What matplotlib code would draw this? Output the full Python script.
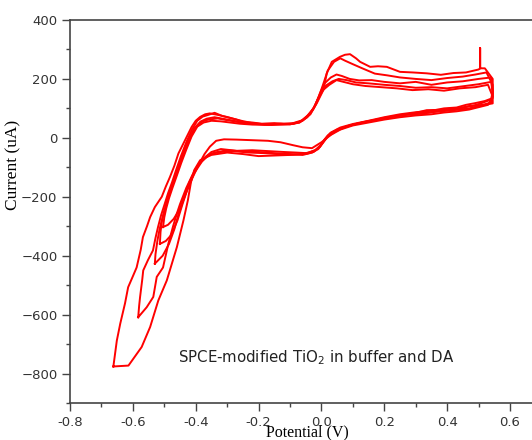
import matplotlib
matplotlib.use("Agg")
import matplotlib.pyplot as plt
from matplotlib.ticker import MultipleLocator

# cyclic voltammogram, five scans (potential in V, current in uA)
scan1_E = [-0.662, -0.655, -0.651, -0.640, -0.625, -0.615, -0.600, -0.588, -0.575, -0.568, -0.555, -0.545,
           -0.530, -0.508, -0.495, -0.482, -0.468, -0.455, -0.434, -0.413, -0.400, -0.386, -0.370, -0.355,
           -0.330, -0.301, -0.270, -0.249, -0.220, -0.190, -0.150, -0.120, -0.090, -0.060, -0.047, -0.030,
           -0.015, 0.006, 0.017, 0.033, 0.059, 0.075, 0.091, 0.110, 0.123, 0.155, 0.180, 0.208, 0.250,
           0.290, 0.335, 0.380, 0.420, 0.460, 0.500, 0.505, 0.505, 0.505, 0.520, 0.545, 0.545, 0.520,
           0.504, 0.470, 0.440, 0.419, 0.380, 0.335, 0.300, 0.250, 0.200, 0.144, 0.100, 0.059, 0.027,
           0.010, -0.005, -0.020, -0.036, -0.060, -0.100, -0.150, -0.200, -0.250, -0.300, -0.350, -0.386,
           -0.405, -0.415, -0.425, -0.439, -0.460, -0.492, -0.519, -0.545, -0.572, -0.614, -0.662]
scan1_I = [-776, -720, -688, -630, -562, -507, -470, -440, -380, -337, -300, -269,
           -235, -200, -165, -133, -95, -53, -8, 37, 58, 71, 80, 83,
           78, 71, 62, 54, 52, 48, 50, 48, 50, 60, 71, 90,
           117, 162, 219, 258, 275, 282, 284, 270, 258, 241, 243, 241, 224,
           222, 219, 214, 220, 222, 232, 236, 305, 236, 236, 200, 117, 112,
           111, 108, 98, 101, 95, 94, 85, 77, 68, 54, 45, 32, 15,
           -5, -31, -42, -48, -55, -58, -60, -62, -55, -50, -58, -76,
           -110, -150, -212, -280, -371, -484, -552, -642, -710, -773, -776]

scan2_E = [-0.583, -0.580, -0.577, -0.570, -0.567, -0.552, -0.536, -0.528, -0.520, -0.510, -0.498, -0.488,
           -0.475, -0.462, -0.447, -0.430, -0.412, -0.395, -0.378, -0.360, -0.340, -0.315, -0.285, -0.255,
           -0.220, -0.180, -0.140, -0.100, -0.070, -0.045, -0.025, -0.010, 0.005, 0.020, 0.040, 0.060,
           0.075, 0.100, 0.130, 0.170, 0.210, 0.250, 0.300, 0.350, 0.400, 0.450, 0.490, 0.525, 0.545,
           0.545, 0.520, 0.490, 0.460, 0.430, 0.390, 0.350, 0.300, 0.250, 0.200, 0.150, 0.100, 0.060,
           0.030, 0.010, -0.010, -0.030, -0.060, -0.100, -0.150, -0.200, -0.250, -0.300, -0.340, -0.365,
           -0.390, -0.410, -0.430, -0.450, -0.460, -0.472, -0.487, -0.504, -0.524, -0.535, -0.556, -0.583]
scan2_I = [-609, -570, -540, -480, -450, -415, -382, -340, -303, -262, -222, -188,
           -150, -108, -62, -15, 28, 58, 72, 78, 85, 74, 66, 58,
           50, 46, 47, 46, 52, 75, 100, 135, 180, 228, 258, 270,
           262, 250, 236, 218, 212, 205, 200, 196, 203, 208, 215, 222, 180,
           135, 125, 118, 112, 103, 100, 92, 87, 80, 70, 58, 47, 35,
           18, -10, -38, -50, -58, -55, -52, -48, -46, -42, -50, -62,
           -90, -125, -170, -225, -257, -300, -359, -440, -472, -540, -575, -609]

scan3_E = [-0.530, -0.528, -0.522, -0.515, -0.505, -0.495, -0.485, -0.470, -0.457, -0.442, -0.425, -0.405,
           -0.385, -0.365, -0.340, -0.310, -0.280, -0.250, -0.210, -0.170, -0.130, -0.095, -0.065, -0.040,
           -0.020, -0.005, 0.010, 0.030, 0.048, 0.065, 0.090, 0.120, 0.160, 0.200, 0.250, 0.300, 0.350,
           0.400, 0.450, 0.500, 0.540, 0.545, 0.540, 0.510, 0.480, 0.450, 0.420, 0.380, 0.340, 0.290,
           0.240, 0.190, 0.140, 0.090, 0.050, 0.020, 0.000, -0.020, -0.045, -0.080, -0.120, -0.170,
           -0.220, -0.270, -0.320, -0.350, -0.375, -0.400, -0.420, -0.438, -0.455, -0.468, -0.485,
           -0.505, -0.530]
scan3_I = [-427, -395, -350, -310, -268, -228, -192, -148, -105, -58, -12, 32,
           55, 65, 70, 64, 58, 50, 47, 45, 48, 47, 56, 78,
           110, 150, 185, 205, 215, 210, 200, 195, 196, 190, 185, 190, 180,
           188, 192, 200, 205, 160, 130, 118, 108, 104, 96, 92, 86, 82,
           74, 65, 55, 42, 28, 8, -22, -42, -52, -50, -48, -45,
           -42, -44, -38, -48, -70, -105, -150, -205, -260, -310, -360,
           -400, -427]

scan4_E = [-0.514, -0.512, -0.508, -0.500, -0.490, -0.480, -0.466, -0.452, -0.438, -0.420, -0.400, -0.380,
           -0.360, -0.330, -0.300, -0.270, -0.240, -0.200, -0.160, -0.120, -0.090, -0.060, -0.035, -0.015,
           0.000, 0.015, 0.035, 0.055, 0.080, 0.110, 0.150, 0.200, 0.250, 0.300, 0.350, 0.400, 0.450,
           0.500, 0.540, 0.545, 0.540, 0.500, 0.470, 0.440, 0.400, 0.360, 0.320, 0.270, 0.220, 0.170,
           0.120, 0.080, 0.045, 0.015, -0.005, -0.025, -0.050, -0.090, -0.130, -0.180, -0.230, -0.280,
           -0.320, -0.355, -0.380, -0.405, -0.425, -0.442, -0.458, -0.478, -0.495, -0.514]
scan4_I = [-360, -320, -285, -250, -215, -180, -138, -95, -50, -5, 35, 55,
           62, 66, 60, 55, 50, 47, 44, 46, 48, 58, 80, 120,
           155, 178, 192, 200, 196, 188, 185, 180, 176, 170, 172, 168, 175,
           182, 190, 150, 120, 108, 100, 96, 92, 88, 82, 78, 70, 60,
           50, 38, 22, 0, -30, -48, -55, -57, -56, -52, -50, -45,
           -48, -55, -80, -120, -170, -225, -280, -330, -350, -360]

scan5_E = [-0.504, -0.500, -0.494, -0.485, -0.474, -0.460, -0.446, -0.430, -0.413, -0.395, -0.375, -0.350,
           -0.320, -0.290, -0.260, -0.220, -0.180, -0.140, -0.100, -0.070, -0.045, -0.025, -0.010, 0.005,
           0.025, 0.048, 0.070, 0.100, 0.140, 0.190, 0.240, 0.290, 0.340, 0.390, 0.440, 0.490, 0.530,
           0.545, 0.530, 0.500, 0.470, 0.430, 0.390, 0.350, 0.300, 0.250, 0.200, 0.150, 0.100, 0.060,
           0.030, 0.000, -0.030, -0.060, -0.090, -0.130, -0.170, -0.220, -0.270, -0.310, -0.335, -0.355,
           -0.372, -0.390, -0.410, -0.430, -0.450, -0.470, -0.488, -0.504]
scan5_I = [-303, -270, -240, -205, -170, -128, -85, -40, 5, 38, 52, 58,
           56, 52, 48, 45, 44, 45, 46, 52, 70, 100, 135, 162,
           180, 196, 190, 182, 176, 172, 168, 162, 165, 160, 168, 172, 180,
           140, 112, 104, 96, 90, 86, 80, 76, 70, 62, 52, 42, 28,
           10, -15, -35, -32, -25, -15, -10, -8, -6, -5, -10, -30,
           -55, -90, -135, -185, -240, -275, -295, -303]

scans = [(scan1_E, scan1_I), (scan2_E, scan2_I), (scan3_E, scan3_I), (scan4_E, scan4_I), (scan5_E, scan5_I)]

plt.rcParams['mathtext.fontset'] = 'dejavusans'

fig = plt.figure(figsize=(5.32, 4.4), dpi=100)
ax = fig.add_axes([70/532, 1 - 403/440, 462/532, 383/440])

for E, I in scans:
    ax.plot(E, I, color='#ff0000', lw=1.4)

ax.set_xlim(-0.8, 0.67)
ax.set_ylim(-900, 400)
ax.xaxis.set_major_locator(MultipleLocator(0.2))
ax.xaxis.set_minor_locator(MultipleLocator(0.1))
ax.yaxis.set_major_locator(MultipleLocator(200))
ax.yaxis.set_minor_locator(MultipleLocator(100))
ax.xaxis.set_major_formatter(plt.FuncFormatter(lambda v, p: f"{v:.1f}"))

ax.spines['right'].set_visible(False)
for s in ['left', 'bottom', 'top']:
    ax.spines[s].set_color('#444444')
    ax.spines[s].set_linewidth(1.2)
ax.tick_params(which='major', direction='out', length=5.5, width=1, color='#444444',
               labelsize=9.5, labelcolor='#333333', top=False, right=False)
ax.tick_params(which='minor', direction='out', length=3, width=1, color='#444444', top=False, right=False)
for lab in ax.get_xticklabels() + ax.get_yticklabels():
    lab.set_fontfamily('DejaVu Sans')

ax.set_xlabel('Potential (V)', family='Liberation Serif', fontsize=11.5)
ax.xaxis.set_label_coords(0.513, -0.055)
ax.set_ylabel('Current (uA)', family='Liberation Serif', fontsize=12.5)
ax.yaxis.set_label_coords(-0.105, 0.621)

ax.text(-0.456, -745, 'SPCE-modified TiO$_2$ in buffer and DA', family='DejaVu Sans',
        fontsize=10.8, color='#222222', va='center')

fig.savefig('out.png', dpi=100)
